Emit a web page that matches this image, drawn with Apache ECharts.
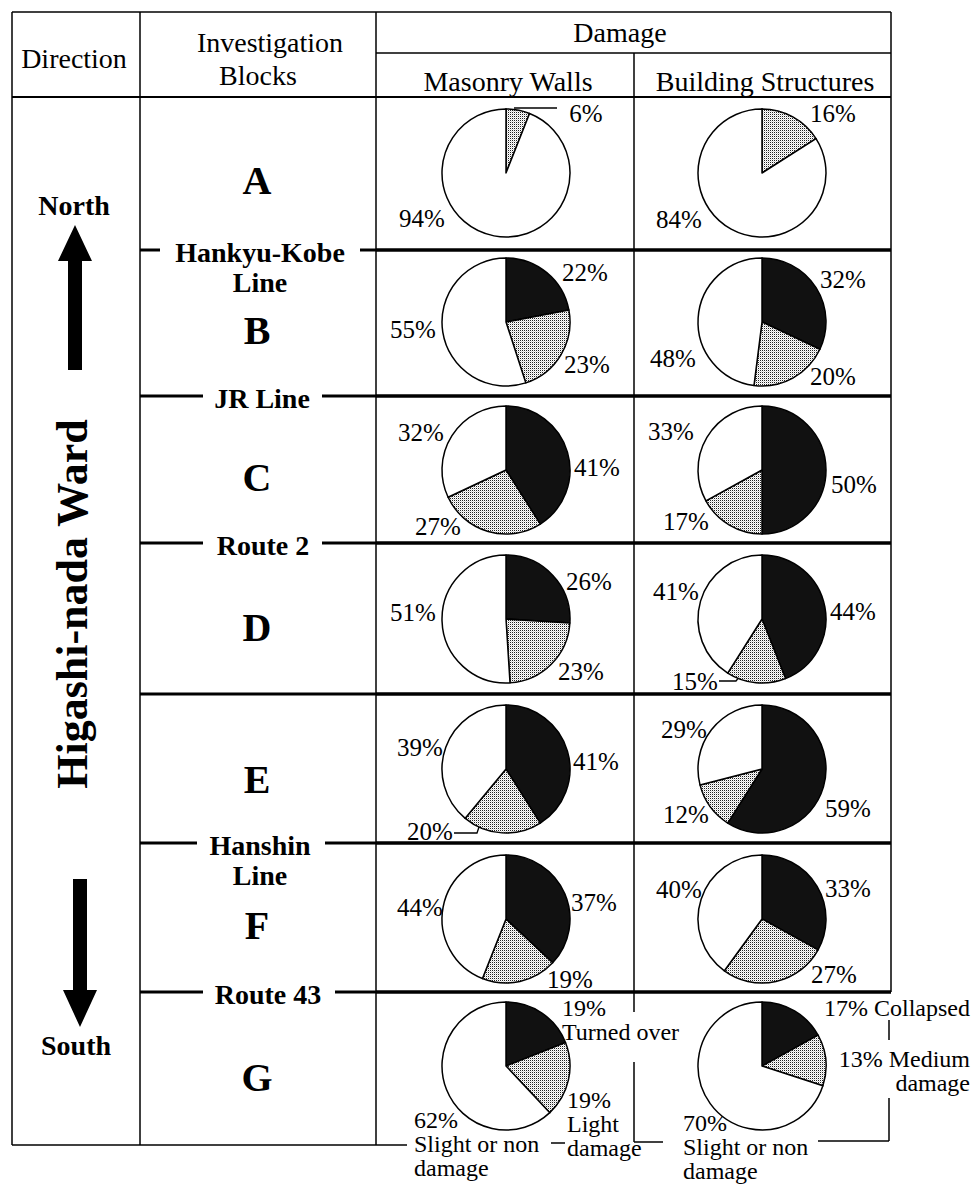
<!DOCTYPE html>
<html>
<head>
<meta charset="utf-8">
<script src="https://cdn.jsdelivr.net/npm/echarts@6/dist/echarts.min.js"></script>
<style>
html, body { margin: 0; padding: 0; background: #fff; }
#chart { width: 975px; height: 1184px; }
</style>
</head>
<body>
<div id="chart"></div>
<script>
// investigation blocks, north to south
var blocks = ['A', 'B', 'C', 'D', 'E', 'F', 'G'];
// lines that separate the blocks
var boundaryNames = ['Hankyu-Kobe\nLine', 'JR Line', 'Route 2', '', 'Hanshin\nLine', 'Route 43'];

var masonryNames = ['Turned over', 'Light damage', 'Slight or non damage'];
var buildingNames = ['Collapsed', 'Medium damage', 'Slight or non damage'];

// percentages per block (A..G)
var masonryTurned = [0, 22, 41, 26, 41, 37, 19];
var masonryLight = [6, 23, 27, 23, 20, 19, 19];
var masonrySlight = [94, 55, 32, 51, 39, 44, 62];

var buildingCollapsed = [0, 32, 50, 44, 59, 33, 17];
var buildingMedium = [16, 20, 17, 15, 12, 27, 13];
var buildingSlight = [84, 48, 33, 41, 29, 40, 70];

// ---- layout ----
var FONT = '"Liberation Serif", "Times New Roman", serif';
var rowY = [173, 322, 470, 619, 769, 919, 1066];
var colX = [506, 762];
var R = 64;
var lineY = [250, 396, 543, 694, 843, 992];
var boundaryPos = [
	{cx: 260, gap: [160, 360]},
	{cx: 262, gap: [203, 322]},
	{cx: 263, gap: [203, 322]},
	null,
	{cx: 260, gap: [197, 325]},
	{cx: 268, gap: [203, 335]}
];
var letterY = [180, 330, 477, 627, 779, 925, 1077];

// label offsets from pie centre: [black, dotted, white]
var labelOffsets = [
	[[[0, 0], [80, -60], [-84, 45]], [[0, 0], [71, -60], [-83, 46]]],
	[[[79, -50], [81, 42], [-93, 7]], [[81, -43], [71, 54], [-89, 36]]],
	[[[91, -3], [-68, 56], [-85, -38]], [[92, 14], [-76, 51], [-91, -39]]],
	[[[83, -38], [75, 52], [-93, -7]], [[91, -8], [-67, 62], [-86, -28]]],
	[[[90, -8], [-76, 62], [-86, -22]], [[86, 39], [-76, 45], [-78, -40]]],
	[[[88, -17], [64, 60], [-86, -12]], [[86, -31], [72, 55], [-83, -30]]],
	[[[56, -70, 'left', 'top'], [61, 22, 'left', 'top'], [-92, 42, 'left', 'top']],
	 [[208, -70, 'right', 'top'], [208, -19, 'right', 'top'], [-79, 45, 'left', 'top']]]
];
// how the names are wrapped in the last row
var lastRowWrap = [['below', 'split', 'splitLast'], ['inline', 'inlineSplit', 'splitLast']];

function wrapName(name, mode, v) {
	var pct = v + '%';
	if (mode === 'below') return pct + '\n' + name;
	if (mode === 'split') return pct + '\n' + name.replace(' ', '\n');
	if (mode === 'splitLast') return pct + '\n' + name.replace(/ (\S+)$/, '\n$1');
	if (mode === 'inline') return pct + ' ' + name;
	return pct + ' ' + name.replace(' ', '\n');
}

// dotted fill for the middle damage class
var dots = document.createElement('canvas');
dots.width = 2; dots.height = 2;
var dctx = dots.getContext('2d');
dctx.fillStyle = '#fff'; dctx.fillRect(0, 0, 2, 2);
dctx.fillStyle = '#222'; dctx.fillRect(0, 0, 1, 1);
dctx.fillStyle = '#d4d4d4'; dctx.fillRect(1, 1, 1, 1);
var dotted = {image: dots, repeat: 'repeat', imageWidth: 2, imageHeight: 2};

var series = [];
function addPie(row, col, vals, names) {
	var cx = colX[col], cy = rowY[row];
	var offs = labelOffsets[row][col];
	var colors = ['#111', dotted, '#fff'];
	var last = row === blocks.length - 1;
	series.push({
		type: 'pie',
		center: [cx, cy],
		radius: R,
		startAngle: 90,
		clockwise: true,
		avoidLabelOverlap: false,
		silent: true,
		animation: false,
		itemStyle: {borderColor: '#000', borderWidth: 1.5},
		label: {
			show: true,
			position: 'outside',
			color: '#000',
			fontFamily: FONT,
			fontSize: last ? 24 : 25,
			lineHeight: last ? 24 : 25,
			formatter: function (p) {
				if (!p.value) return '';
				if (!last) return p.value + '%';
				return wrapName(p.name, lastRowWrap[col][p.dataIndex], p.value);
			}
		},
		labelLine: {show: false},
		labelLayout: function (p) {
			var o = offs[p.dataIndex];
			return {x: cx + o[0], y: cy + o[1], align: o[2] || 'center', verticalAlign: o[3] || 'middle'};
		},
		emphasis: {disabled: true},
		data: vals.map(function (v, k) {
			return {value: v, name: names[k], itemStyle: {color: colors[k]}};
		})
	});
}
for (var i = 0; i < blocks.length; i++) {
	addPie(i, 0, [masonryTurned[i], masonryLight[i], masonrySlight[i]], masonryNames);
	addPie(i, 1, [buildingCollapsed[i], buildingMedium[i], buildingSlight[i]], buildingNames);
}

// ---- table frame, headings, arrows ----
var graphic = [];
function line(x1, y1, x2, y2, w) {
	graphic.push({type: 'line', silent: true, shape: {x1: x1, y1: y1, x2: x2, y2: y2},
		style: {stroke: '#000', lineWidth: w || 1.5}});
}
function text(str, x, y, size, weight, extra) {
	var el = {type: 'text', silent: true, x: x, y: y, style: {
		text: str, fill: '#000',
		font: (weight || 'normal') + ' ' + size + 'px ' + FONT,
		fontSize: size, fontWeight: weight || 'normal', fontFamily: FONT,
		textAlign: 'center', textVerticalAlign: 'middle', align: 'center', verticalAlign: 'middle',
		lineHeight: 30
	}};
	if (extra) for (var k in extra) el[k] = extra[k];
	graphic.push(el);
}

line(12, 12, 891, 12);
line(376, 53, 891, 53);
line(12, 97, 891, 97, 2.2);
line(12, 12, 12, 1145);
line(140, 12, 140, 1145);
line(376, 12, 376, 1145);
line(634, 53, 634, 1012);
line(634, 1062, 634, 1142);
line(634, 1142, 663, 1142);
line(891, 12, 891, 992);
line(889, 1020, 889, 1040);
line(889, 1098, 889, 1141);
line(889, 1141, 818, 1141);
line(12, 1145, 407, 1145);
line(551, 1143, 565, 1143);

for (var j = 0; j < lineY.length; j++) {
	var y = lineY[j];
	line(376, y, 891, y, 3.5);
	var b = boundaryPos[j];
	if (!b) { line(140, y, 376, y, 3); continue; }
	line(140, y, b.gap[0], y, 3);
	line(b.gap[1], y, 376, y, 3);
	var two = boundaryNames[j].indexOf('\n') >= 0;
	text(boundaryNames[j], b.cx, two ? y + 17 : y + 2, 28, 'bold');
}
for (var i2 = 0; i2 < blocks.length; i2++) {
	text(blocks[i2], 257, letterY[i2], 40, 'bold');
}

// leader lines for small slices
graphic.push({type: 'polyline', silent: true, shape: {points: [[514, 108], [557, 108]]}, style: {stroke: '#000', lineWidth: 1.3, fill: null}});
graphic.push({type: 'polyline', silent: true, shape: {points: [[719, 681], [736, 681], [740, 676]]}, style: {stroke: '#000', lineWidth: 1.3, fill: null}});
graphic.push({type: 'polyline', silent: true, shape: {points: [[454, 833], [477, 833], [479, 827]]}, style: {stroke: '#000', lineWidth: 1.3, fill: null}});

// headings
text('Direction', 74, 58, 28);
text('Investigation', 270, 42, 28);
text('Blocks', 258, 75, 28);
text('Damage', 620, 32, 28);
text('Masonry Walls', 508, 81, 28);
text('Building Structures', 765, 81, 28);

// direction column
text('North', 74, 205, 28, 'bold');
text('South', 76, 1045, 28, 'bold');
text('Higashi-nada Ward', 72, 604, 44, 'bold', {rotation: Math.PI / 2});
graphic.push({type: 'polygon', silent: true, shape: {points: [[75, 225], [92, 261], [82, 261], [82, 370], [68, 370], [68, 261], [58, 261]]}, style: {fill: '#000'}});
graphic.push({type: 'polygon', silent: true, shape: {points: [[80, 1027], [97, 990], [87, 990], [87, 879], [73, 879], [73, 990], [63, 990]]}, style: {fill: '#000'}});

var chart = echarts.init(document.getElementById('chart'), null, {renderer: 'svg'});
chart.setOption({
	backgroundColor: '#fff',
	animation: false,
	series: series,
	graphic: graphic
});
</script>
</body>
</html>
